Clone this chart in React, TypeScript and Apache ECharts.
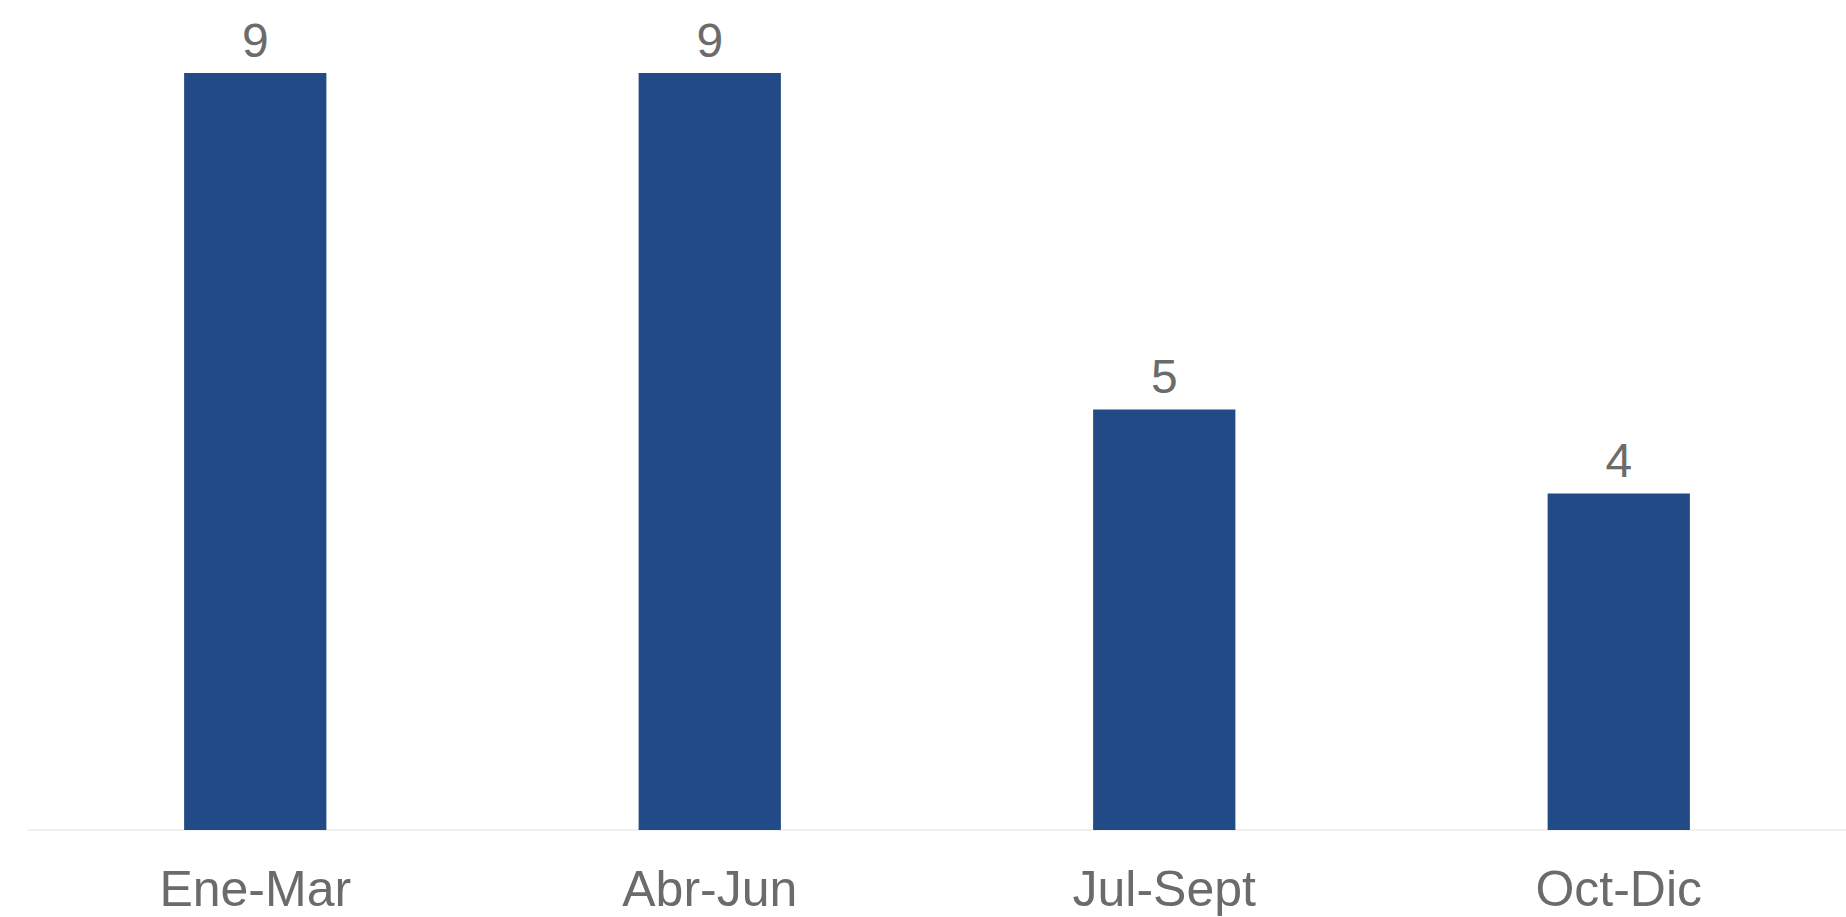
import React, { useEffect, useRef } from "react";
import * as echarts from "echarts";

const categories = ["Ene-Mar", "Abr-Jun", "Jul-Sept", "Oct-Dic"];
const values = [9, 9, 5, 4];

export default function App() {
  const ref = useRef<HTMLDivElement>(null);
  useEffect(() => {
    if (!ref.current) return;
    const chart = echarts.init(ref.current, null, { renderer: "svg" });
    chart.setOption({
      animation: false,
      backgroundColor: "#ffffff",
      grid: { left: 28, right: -2, top: 73, bottom: 87, containLabel: false },
      xAxis: {
        type: "category",
        data: categories,
        axisLine: { show: true, lineStyle: { color: "#f0f0f0", width: 2 } },
        axisTick: { show: false },
        axisLabel: {
          color: "#6b6b6b",
          fontSize: 50,
          lineHeight: 50,
          fontFamily: "Liberation Sans, Arial, sans-serif",
          margin: 34,
        },
      },
      yAxis: {
        type: "value",
        min: 0,
        max: 9,
        show: false,
        splitLine: { show: false },
      },
      series: [
        {
          type: "bar",
          data: values,
          barWidth: "31.3%",
          itemStyle: { color: "#214a87" },
          label: {
            show: true,
            position: "top",
            distance: 9,
            color: "#6b6b6b",
            fontSize: 48,
            fontFamily: "Liberation Sans, Arial, sans-serif",
          },
        },
      ],
    });
    return () => chart.dispose();
  }, []);
  return (
    <div
      ref={ref}
      style={{ position: "absolute", left: 0, top: 0, width: 1846, height: 917 }}
    />
  );
}
